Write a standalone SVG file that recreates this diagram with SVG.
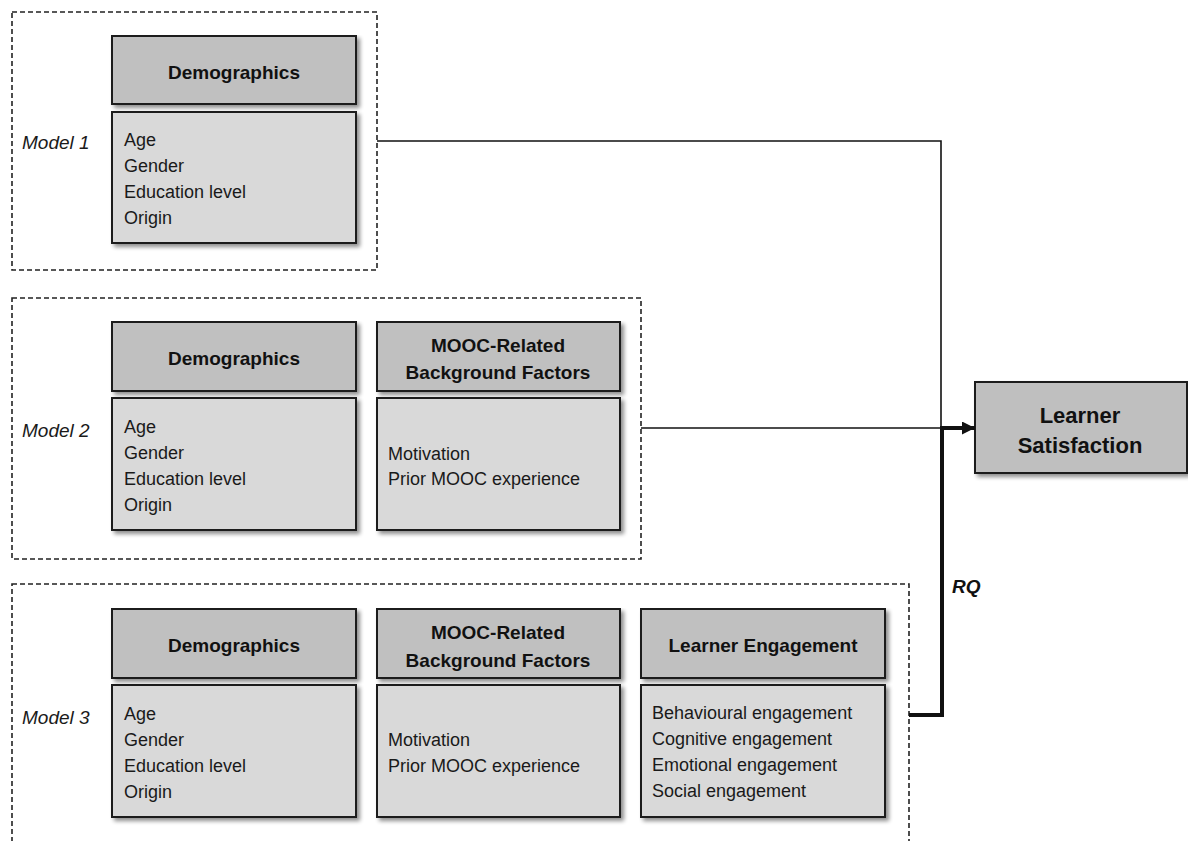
<svg xmlns="http://www.w3.org/2000/svg" width="1188" height="841" viewBox="0 0 1188 841">
<defs>
<filter id="sh" x="-5%" y="-5%" width="115%" height="120%">
<feGaussianBlur in="SourceAlpha" stdDeviation="2"/>
<feOffset dx="3" dy="3" result="b"/>
<feComponentTransfer><feFuncA type="linear" slope="0.45"/></feComponentTransfer>
<feMerge><feMergeNode/><feMergeNode in="SourceGraphic"/></feMerge>
</filter>
<marker id="ah" viewBox="0 0 10 10" refX="10" refY="5" markerWidth="13" markerHeight="13" markerUnits="userSpaceOnUse" orient="auto">
<path d="M0,0 L10,5 L0,10 z" fill="#111"/>
</marker>
<style>
.dash{fill:none;stroke:#222;stroke-width:1.6;stroke-dasharray:5,3}
.hd{fill:#c0c0c0;stroke:#1a1a1a;stroke-width:2;filter:url(#sh)}
.bd{fill:#d9d9d9;stroke:#1a1a1a;stroke-width:2;filter:url(#sh)}
.ls{fill:#bfbfbf;stroke:#1a1a1a;stroke-width:2;filter:url(#sh)}
.ht{font-family:"Liberation Sans",Arial,sans-serif;font-weight:bold;font-size:19px;fill:#111;text-anchor:middle}
.bt{font-family:"Liberation Sans",Arial,sans-serif;font-size:18px;fill:#1a1a1a}
.ml{font-family:"Liberation Sans",Arial,sans-serif;font-style:italic;font-size:19px;fill:#1a1a1a}
.thin{fill:none;stroke:#111;stroke-width:1.6}
.thick{fill:none;stroke:#111;stroke-width:4}
</style>
</defs>
<rect width="1188" height="841" fill="#fff"/>

<g id="model1">
<rect class="dash" x="12" y="12" width="365" height="258"/>
<text class="ml" x="22" y="149">Model 1</text>
<g id="m1-demo">
<rect class="hd" x="112" y="36" width="244" height="68"/>
<text class="ht" x="234" y="79">Demographics</text>
<rect class="bd" x="112" y="112" width="244" height="131"/>
<text class="bt" x="124" y="146">Age</text>
<text class="bt" x="124" y="172">Gender</text>
<text class="bt" x="124" y="198">Education level</text>
<text class="bt" x="124" y="224">Origin</text>
</g>
</g>

<g id="model2">
<rect class="dash" x="12" y="298" width="629" height="261"/>
<text class="ml" x="22" y="437">Model 2</text>
<g id="m2-demo">
<rect class="hd" x="112" y="322" width="244" height="69"/>
<text class="ht" x="234" y="365">Demographics</text>
<rect class="bd" x="112" y="398" width="244" height="132"/>
<text class="bt" x="124" y="433">Age</text>
<text class="bt" x="124" y="459">Gender</text>
<text class="bt" x="124" y="485">Education level</text>
<text class="bt" x="124" y="511">Origin</text>
</g>
<g id="m2-mooc">
<rect class="hd" x="377" y="322" width="243" height="69"/>
<text class="ht" x="498" y="352">MOOC-Related</text>
<text class="ht" x="498" y="379">Background Factors</text>
<rect class="bd" x="377" y="398" width="243" height="132"/>
<text class="bt" x="388" y="460">Motivation</text>
<text class="bt" x="388" y="485">Prior MOOC experience</text>
</g>
</g>

<g id="model3">
<rect class="dash" x="12" y="584" width="897" height="300"/>
<text class="ml" x="22" y="724">Model 3</text>
<g id="m3-demo">
<rect class="hd" x="112" y="609" width="244" height="69"/>
<text class="ht" x="234" y="652">Demographics</text>
<rect class="bd" x="112" y="685" width="244" height="132"/>
<text class="bt" x="124" y="720">Age</text>
<text class="bt" x="124" y="746">Gender</text>
<text class="bt" x="124" y="772">Education level</text>
<text class="bt" x="124" y="798">Origin</text>
</g>
<g id="m3-mooc">
<rect class="hd" x="377" y="609" width="243" height="69"/>
<text class="ht" x="498" y="639">MOOC-Related</text>
<text class="ht" x="498" y="667">Background Factors</text>
<rect class="bd" x="377" y="685" width="243" height="132"/>
<text class="bt" x="388" y="746">Motivation</text>
<text class="bt" x="388" y="772">Prior MOOC experience</text>
</g>
<g id="m3-eng">
<rect class="hd" x="641" y="609" width="244" height="69"/>
<text class="ht" x="763" y="652">Learner Engagement</text>
<rect class="bd" x="641" y="685" width="244" height="132"/>
<text class="bt" x="652" y="719">Behavioural engagement</text>
<text class="bt" x="652" y="745">Cognitive engagement</text>
<text class="bt" x="652" y="771">Emotional engagement</text>
<text class="bt" x="652" y="797">Social engagement</text>
</g>
</g>

<g id="satisfaction">
<rect class="ls" x="975" y="382" width="212" height="91"/>
<text class="ht" style="font-size:22px" x="1080" y="423">Learner</text>
<text class="ht" style="font-size:22px" x="1080" y="453">Satisfaction</text>
</g>

<g id="connectors">
<polyline class="thin" points="377,141 941,141 941,428"/>
<line class="thin" x1="641" y1="428" x2="941" y2="428"/>
<line class="thick" x1="941" y1="428" x2="975" y2="428" marker-end="url(#ah)"/>
<polyline class="thick" points="909,715 942,715 942,426"/>
<text x="952" y="593" style="font-family:'Liberation Sans',Arial,sans-serif;font-weight:bold;font-style:italic;font-size:19px;fill:#111">RQ</text>
</g>
</svg>
